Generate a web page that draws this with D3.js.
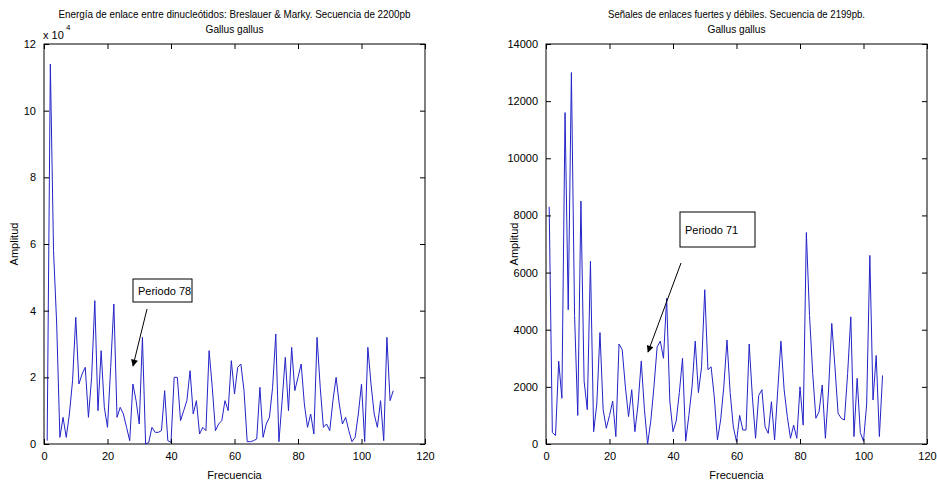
<!DOCTYPE html>
<html>
<head>
<meta charset="utf-8">
<script src="https://cdn.jsdelivr.net/npm/d3@7"></script>
<style>
  body { margin: 0; background: #fff; }
  svg { display: block; }
  text { font-family: "Liberation Sans Narrow", "Liberation Sans", Arial, sans-serif; fill: #000; }
  .axis path, .axis line { stroke: #000; }
  .axis text { font-size: 11px; }
  .series { fill: none; stroke: #2323c8; stroke-width: 1; }
</style>
</head>
<body>
<svg width="937" height="487"></svg>
<script>
// amplitude (x 10^4) per frequency 1..110, Breslauer & Marky
var energia = [0.1, 11.4, 5.8, 3.6, 0.2, 0.8, 0.2, 0.9, 1.9, 3.8,
  1.8, 2.1, 2.3, 0.8, 2.0, 4.3, 1.0, 2.8, 1.1, 0.5,
  2.3, 4.2, 0.8, 1.1, 0.9, 0.5, 0.1, 1.8, 1.3, 0.6,
  3.2, 0.0, 0.05, 0.5, 0.35, 0.35, 0.4, 1.6, 0.1, 0.05,
  2.0, 2.0, 0.7, 1.0, 1.3, 2.2, 0.9, 1.3, 0.3, 0.5,
  0.4, 2.8, 1.7, 0.4, 0.6, 0.7, 1.3, 1.0, 2.5, 1.5,
  2.3, 2.4, 1.6, 0.07, 0.07, 0.1, 0.15, 1.7, 0.2, 0.6,
  0.8, 1.7, 3.3, 0.07, 1.3, 2.6, 1.0, 2.9, 1.6, 2.0,
  2.4, 1.2, 0.5, 0.9, 0.3, 3.2, 1.7, 0.5, 0.6, 0.4,
  1.3, 2.0, 1.2, 0.6, 0.8, 0.4, 0.07, 0.2, 0.9, 1.8,
  0.07, 2.9, 1.8, 0.9, 0.5, 1.3, 0.1, 3.2, 1.3, 1.6];

// amplitude per frequency 1..106, enlaces fuertes y debiles
var senales = [8300, 400, 300, 2900, 1600, 11600, 4700, 13000, 4500, 1000,
  8500, 2200, 1200, 6400, 430, 1400, 3900, 1200, 550, 1000,
  1500, 260, 3500, 3300, 2000, 960, 1900, 430, 1400, 2900,
  1200, 0, 800, 2000, 3400, 3600, 3000, 5100, 1500, 430,
  800, 1800, 3000, 100, 1000, 2000, 3600, 1800, 2700, 5400,
  2600, 2700, 1650, 140, 840, 2000, 3640, 1800, 600, 80,
  1000, 490, 490, 3500, 1650, 200, 1700, 1900, 600, 370,
  1480, 140, 1900, 3600, 1900, 960, 200, 660, 200, 2000,
  660, 7400, 4500, 2470, 900, 1130, 2065, 200, 1890, 4220,
  2700, 1070, 900, 840, 2470, 4450, 260, 2300, 400, 100,
  1400, 6600, 1540, 3100, 260, 2400];

var xTicks = [0, 20, 40, 60, 80, 100, 120];
var yTicksLeft = [0, 2, 4, 6, 8, 10, 12];
var yTicksRight = [0, 2000, 4000, 6000, 8000, 10000, 12000, 14000];

var titlesLeft = ["Energía de enlace entre  dinucleótidos: Breslauer & Marky. Secuencia de 2200pb", "Gallus gallus"];
var titlesRight = ["Señales de enlaces fuertes y débiles. Secuencia de 2199pb.", "Gallus gallus"];

var svg = d3.select("svg");

svg.append("defs").append("marker")
    .attr("id", "head")
    .attr("viewBox", "0 0 10 10")
    .attr("refX", 9).attr("refY", 5)
    .attr("markerWidth", 9).attr("markerHeight", 7)
    .attr("markerUnits", "userSpaceOnUse")
    .attr("orient", "auto")
    .append("path")
    .attr("d", "M0,0L10,5L0,10z")
    .attr("fill", "#000");

function panel(opts) {
  var x = d3.scaleLinear().domain([0, 120]).range([opts.left, opts.right]),
      y = d3.scaleLinear().domain([0, opts.ymax]).range([444, 44]);

  var g = svg.append("g");

  g.append("rect")
      .attr("x", opts.left).attr("y", 44)
      .attr("width", opts.right - opts.left).attr("height", 400)
      .attr("fill", "#fff").attr("stroke", "#000");

  var line = d3.line()
      .x(function(d, i) { return x(i + 1); })
      .y(function(d) { return y(d); });

  g.append("path")
      .datum(opts.data)
      .attr("class", "series")
      .attr("d", line);

  // MATLAB style inward ticks on all four sides
  g.append("g").attr("class", "axis")
      .attr("transform", "translate(0,444)")
      .call(d3.axisBottom(x).tickValues(xTicks).tickSizeInner(-5).tickSizeOuter(0).tickPadding(8));
  g.append("g").attr("class", "axis")
      .attr("transform", "translate(0,44)")
      .call(d3.axisTop(x).tickValues(xTicks).tickSizeInner(-5).tickSizeOuter(0).tickFormat(""));
  g.append("g").attr("class", "axis")
      .attr("transform", "translate(" + opts.left + ",0)")
      .call(d3.axisLeft(y).tickValues(opts.yticks).tickSizeInner(-5).tickSizeOuter(0)
        .tickPadding(8).tickFormat(d3.format("d")));
  g.append("g").attr("class", "axis")
      .attr("transform", "translate(" + opts.right + ",0)")
      .call(d3.axisRight(y).tickValues(opts.yticks).tickSizeInner(-5).tickSizeOuter(0).tickFormat(""));
  g.selectAll(".axis path.domain").remove();

  var cx = (opts.left + opts.right) / 2;
  g.selectAll("text.title")
      .data(opts.titles)
      .enter().append("text")
      .attr("class", "title")
      .attr("x", cx)
      .attr("y", function(d, i) { return 18 + i * 15; })
      .attr("text-anchor", "middle")
      .attr("textLength", function(d, i) { return opts.titleLen[i]; })
      .attr("lengthAdjust", "spacingAndGlyphs")
      .style("font-size", "11px")
      .text(function(d) { return d; });

  g.append("text")
      .attr("x", cx).attr("y", 479)
      .attr("text-anchor", "middle")
      .style("font-size", "11px")
      .text("Frecuencia");

  g.append("text")
      .attr("transform", "translate(" + opts.ylabelX + ",244) rotate(-90)")
      .attr("text-anchor", "middle")
      .style("font-size", "11px")
      .text("Amplitud");

  // annotation box + arrow
  var a = opts.note;
  g.append("rect")
      .attr("x", a.bx).attr("y", a.by)
      .attr("width", a.bw).attr("height", a.bh)
      .attr("fill", "#fff").attr("stroke", "#000");
  g.append("text")
      .attr("x", a.bx + 5).attr("y", a.by + a.bh / 2 + 4)
      .style("font-size", "11px")
      .text(a.label);
  g.append("line")
      .attr("x1", a.x1).attr("y1", a.y1)
      .attr("x2", a.x2).attr("y2", a.y2)
      .attr("stroke", "#000")
      .attr("marker-end", "url(#head)");

  return g;
}

var left = panel({
  left: 44, right: 425, ymax: 12, yticks: yTicksLeft, data: energia,
  titles: titlesLeft, titleLen: [352, 58], ylabelX: 18,
  note: {bx: 133, by: 279, bw: 59, bh: 23, label: "Periodo 78", x1: 147, y1: 309, x2: 133, y2: 366}
});

// x 10^4 exponent label
left.append("text").attr("x", 43).attr("y", 39).style("font-size", "11px").text("x 10");
left.append("text").attr("x", 66).attr("y", 30).style("font-size", "8px").text("4");

panel({
  left: 546, right: 927, ymax: 14000, yticks: yTicksRight, data: senales,
  titles: titlesRight, titleLen: [257, 58], ylabelX: 518,
  note: {bx: 680, by: 212, bw: 75, bh: 35, label: "Periodo 71", x1: 681, y1: 263, x2: 648, y2: 352}
});
</script>
</body>
</html>
